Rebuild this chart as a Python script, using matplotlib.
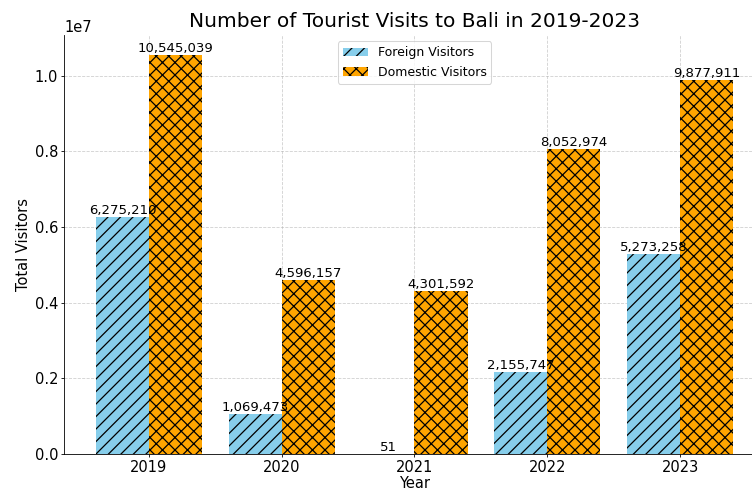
import matplotlib.pyplot as plt
import numpy as np

years = ["2019", "2020", "2021", "2022", "2023"]
foreign = [6275210, 1069473, 51, 2155747, 5273258]
domestic = [10545039, 4596157, 4301592, 8052974, 9877911]

plt.rcParams["hatch.linewidth"] = 1.2

# rendered at a lower dpi so hatch spacing matches the downscaled original
fig = plt.figure(figsize=(753 / 75, 490 / 75), dpi=75)
ax = fig.add_axes([64 / 753, 36 / 490, (765 - 64) / 753, (454 - 35) / 490])

x = np.arange(len(years))
w = 0.4
b1 = ax.bar(x - w / 2, foreign, w, color="skyblue", hatch="//", label="Foreign Visitors")
b2 = ax.bar(x + w / 2, domestic, w, color="orange", hatch="xx", label="Domestic Visitors")

for bars in (b1, b2):
    for bar in bars:
        h = bar.get_height()
        ax.text(bar.get_x() + bar.get_width() / 2, h, f"{int(h):,}",
                ha="center", va="bottom", fontsize=12.7)

ax.set_xticks(x)
ax.set_xticklabels(years, fontsize=14)
ax.tick_params(axis="both", labelsize=14, pad=2.5, length=3)
ax.set_xlabel("Year", fontsize=14, labelpad=1)
ax.set_ylabel("Total Visitors", fontsize=14)
ax.yaxis.get_offset_text().set_fontsize(14)
ax.set_title("Number of Tourist Visits to Bali in 2019-2023", fontsize=19.3, pad=8)
ax.grid(True, linestyle="--", alpha=0.6)
ax.set_axisbelow(True)
ax.spines["top"].set_visible(False)
ax.spines["right"].set_visible(False)
ax.legend(loc="upper center", fontsize=12)

fig.savefig("out.png", dpi=75)
